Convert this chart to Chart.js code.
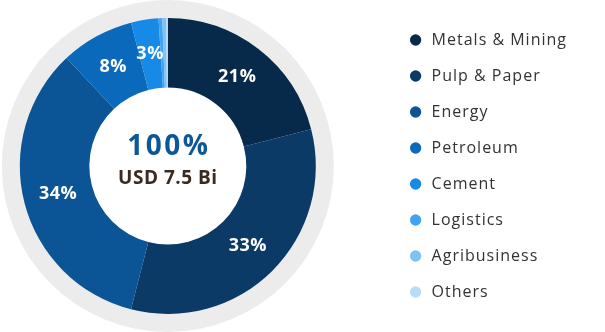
<!DOCTYPE html>
<html lang="en">
<head>
    <meta charset="UTF-8">
    <title>Portfolio by Sector</title>
    <script src="https://cdn.jsdelivr.net/npm/chart.js"></script>
    <style>
        html, body {
            margin: 0;
            padding: 0;
            background: #fff;
            overflow: hidden;
        }
        /* canvas starts left of the page so the ring sits near the edge */
        .chart-container {
            width: 657px;
            height: 332px;
            margin-left: -52px;
        }
    </style>
</head>
<body>

    <div class="chart-container">
        <canvas id="sectorChart"></canvas>
    </div>

    <script>
        const sectors = ["Metals & Mining", "Pulp & Paper", "Energy", "Petroleum", "Cement", "Logistics", "Agribusiness", "Others"];
        const shares = [21, 33, 34, 8, 3, 0.4, 0.4, 0.2];
        const sectorColors = ["#072a4b", "#0b3a67", "#0b5597", "#0b69bb", "#1789e6", "#42a4f0", "#7ec2f5", "#b8dcf8"];
        const totalLabel = "USD 7.5 Bi";

        const FONT = "'Open Sans', Arial, sans-serif";

        // a bit of tracking so the legend text sits wider
        const tracking = {
            id: "tracking",
            beforeLayout(chart) { chart.ctx.letterSpacing = "1px"; },
            beforeDraw(chart) { chart.ctx.letterSpacing = "1px"; }
        };

        // light grey ring behind the doughnut
        const ringBackground = {
            id: "ringBackground",
            beforeDatasetsDraw(chart) {
                const arc = chart.getDatasetMeta(0).data[0];
                if (!arc) return;
                const ctx = chart.ctx;
                ctx.save();
                ctx.beginPath();
                ctx.arc(arc.x, arc.y, arc.outerRadius + 18, 0, Math.PI * 2);
                ctx.fillStyle = "#ececec";
                ctx.fill();
                ctx.beginPath();
                ctx.arc(arc.x, arc.y, arc.innerRadius, 0, Math.PI * 2);
                ctx.fillStyle = "#fff";
                ctx.fill();
                ctx.restore();
            }
        };

        // percentages on slices + total in the middle
        const sliceLabels = {
            id: "sliceLabels",
            afterDatasetsDraw(chart) {
                const ctx = chart.ctx;
                const meta = chart.getDatasetMeta(0);
                ctx.save();
                ctx.textAlign = "center";
                ctx.textBaseline = "middle";
                ctx.fillStyle = "#fff";
                ctx.letterSpacing = "0.5px";
                ctx.font = "bold 18px " + FONT;
                meta.data.forEach((arc, i) => {
                    const v = shares[i];
                    if (v < 2) return;
                    const p = arc.getCenterPoint();
                    ctx.fillText(Math.round(v) + "%", p.x, p.y);
                });

                const c = meta.data[0];
                const total = shares.reduce((a, b) => a + b, 0);
                ctx.fillStyle = "#0d5697";
                ctx.letterSpacing = "2.5px";
                ctx.font = "bold 28px " + FONT;
                ctx.fillText(Math.round(total) + "%", c.x + 1, c.y - 19);
                ctx.fillStyle = "#3b2a1f";
                ctx.letterSpacing = "0.5px";
                ctx.font = "bold 19px " + FONT;
                ctx.fillText(totalLabel, c.x, c.y + 13);
                ctx.restore();
            }
        };

        new Chart(document.getElementById("sectorChart"), {
            type: "doughnut",
            data: {
                labels: sectors,
                datasets: [{
                    data: shares,
                    backgroundColor: sectorColors,
                    borderWidth: 0
                }]
            },
            options: {
                responsive: true,
                maintainAspectRatio: false,
                animation: false,
                radius: 148,
                cutout: 88,
                layout: {
                    padding: { left: 0, top: 0, bottom: 0, right: 28 }
                },
                plugins: {
                    tooltip: { enabled: false },
                    legend: {
                        position: "right",
                        align: "center",
                        labels: {
                            usePointStyle: true,
                            pointStyle: "circle",
                            boxWidth: 18,
                            boxHeight: 8,
                            padding: 20,
                            color: "#333",
                            font: { family: FONT, size: 16 }
                        }
                    }
                }
            },
            plugins: [tracking, ringBackground, sliceLabels]
        });
    </script>

</body>
</html>
